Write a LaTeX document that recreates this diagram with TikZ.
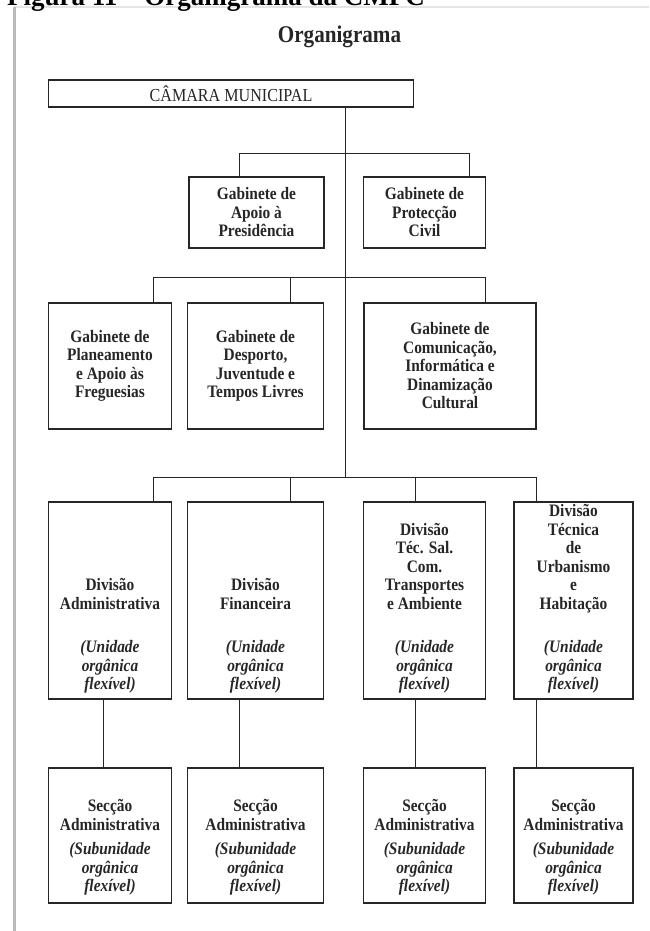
\documentclass[tikz,border=0pt]{standalone}
\usepackage{fontspec}
\usepackage{tikz}
\usetikzlibrary{positioning}
\setmainfont{Liberation Serif}
\newfontfamily\condfont[FakeStretch=0.88]{Liberation Serif}
\newcommand{\divtext}[1]{\parbox[c][182.6pt][b]{110pt}{\centering #1}}
\newcommand{\sectext}[1]{\parbox[c][116.6pt][b]{110pt}{\centering #1}}

\begin{document}
\begin{tikzpicture}[%
        x=1pt, y=-1pt,
        orgbox/.style={rectangle, draw=black!85, line width=1.3pt, inner sep=0pt, align=center,
          text=black!85, font=\condfont\bfseries\fontsize{17.5}{18.5}\selectfont},
        divbox/.style={orgbox, minimum height=197pt},
        secbox/.style={orgbox, minimum height=135pt},
        orgline/.style={draw=black!85, line width=1.3pt}
      ]
      \useasboundingbox (0,0) rectangle (649,931);
      % page edge
      \draw [gray!20, line width=2pt] (14,7) -- (649,7);
      \draw [gray!55, line width=3pt] (14.5,7) -- (14.5,931);
      \node [anchor=base west, inner sep=0pt] (caption) at (7,5.5)
        {\fontsize{27}{30}\selectfont\bfseries Figura 11 -- Organigrama da CMPC};
      \node [inner sep=0pt, text=black!85] (title) at (339.5,37)
        {\condfont\bfseries\fontsize{24}{27}\selectfont Organigrama};

      \node [] (camara) [orgbox, minimum width=365pt, minimum height=27pt,
        font=\condfont\fontsize{18.3}{20}\selectfont] at (231,93.5) {CÂMARA MUNICIPAL};

      \node [] (apoio) [orgbox, minimum width=135pt, minimum height=71pt] at (256.5,212.5)
        {Gabinete de\\Apoio à\\Presidência};
      \node [] (proteccao) [orgbox, minimum width=122pt, minimum height=71pt] at (424.5,212.5)
        {Gabinete de\\Protecção\\Civil};

      \node [] (planeamento) [orgbox, minimum width=123pt, minimum height=126pt] at (110,366)
        {Gabinete de\\Planeamento\\e Apoio às\\Freguesias};
      \node [] (desporto) [orgbox, minimum width=136pt, minimum height=126pt] at (255.5,366)
        {Gabinete de\\Desporto,\\Juventude e\\Tempos Livres};
      \node [] (comunicacao) [orgbox, minimum width=172pt, minimum height=126pt] at (450,366)
        {Gabinete de\\Comunicação,\\Informática e\\Dinamização\\Cultural};

      \node [] (divadm) [divbox, minimum width=123pt] at (110,600.5)
        {\divtext{Divisão\\Administrativa\\[25pt]\itshape(Unidade\\orgânica\\flexível)}};
      \node [] (divfin) [divbox, minimum width=136pt] at (255.5,600.5)
        {\divtext{Divisão\\Financeira\\[25pt]\itshape(Unidade\\orgânica\\flexível)}};
      \node [] (divtec) [divbox, minimum width=122pt] at (424.5,600.5)
        {\divtext{Divisão\\Téc. Sal.\\Com.\\Transportes\\e Ambiente\\[25pt]\itshape(Unidade\\orgânica\\flexível)}};
      \node [] (divurb) [divbox, minimum width=119pt] at (573.5,600.5)
        {\divtext{Divisão\\Técnica\\de\\Urbanismo\\e\\Habitação\\[25pt]\itshape(Unidade\\orgânica\\flexível)}};

      \node [] (secadm) [secbox, minimum width=123pt] at (110,835.5)
        {\sectext{Secção\\Administrativa\\[6pt]\itshape(Subunidade\\orgânica\\flexível)}};
      \node [] (secfin) [secbox, minimum width=136pt] at (255.5,835.5)
        {\sectext{Secção\\Administrativa\\[6pt]\itshape(Subunidade\\orgânica\\flexível)}};
      \node [] (sectec) [secbox, minimum width=122pt] at (424.5,835.5)
        {\sectext{Secção\\Administrativa\\[6pt]\itshape(Subunidade\\orgânica\\flexível)}};
      \node [] (securb) [secbox, minimum width=119pt] at (573.5,835.5)
        {\sectext{Secção\\Administrativa\\[6pt]\itshape(Subunidade\\orgânica\\flexível)}};

      % trunk and branches
      \coordinate (trunk) at (345.5,477.5);
      \coordinate (b1l) at (239.5,153.5);
      \coordinate (b1r) at (469.5,153.5);
      \coordinate (b2l) at (153.5,277.5);
      \coordinate (b2m) at (290.5,277.5);
      \coordinate (b2r) at (485.5,277.5);
      \coordinate (b3a) at (153.5,477.5);
      \coordinate (b3b) at (290.5,477.5);
      \coordinate (b3c) at (415.5,477.5);
      \coordinate (b3d) at (536.5,477.5);
      \coordinate (d1) at (103.5,0);
      \coordinate (d2) at (239.5,0);
      \coordinate (d3) at (415.5,0);
      \coordinate (d4) at (536.5,0);
      \path [orgline] (camara.south -| trunk) -- (trunk);
      \path [orgline] (b1l |- apoio.north) -- (b1l) -- (b1r) -- (b1r |- proteccao.north);
      \path [orgline] (b2l |- planeamento.north) -- (b2l) -- (b2r) -- (b2r |- comunicacao.north)
        (b2m) -- (b2m |- desporto.north);
      \path [orgline] (b3a |- divadm.north) -- (b3a) -- (b3d) -- (b3d |- divurb.north)
        (b3b) -- (b3b |- divfin.north)
        (b3c) -- (b3c |- divtec.north);
      \path [orgline] (d1 |- divadm.south) -- (d1 |- secadm.north)
        (d2 |- divfin.south) -- (d2 |- secfin.north)
        (d3 |- divtec.south) -- (d3 |- sectec.north)
        (d4 |- divurb.south) -- (d4 |- securb.north);
    \end{tikzpicture}
\end{document}
